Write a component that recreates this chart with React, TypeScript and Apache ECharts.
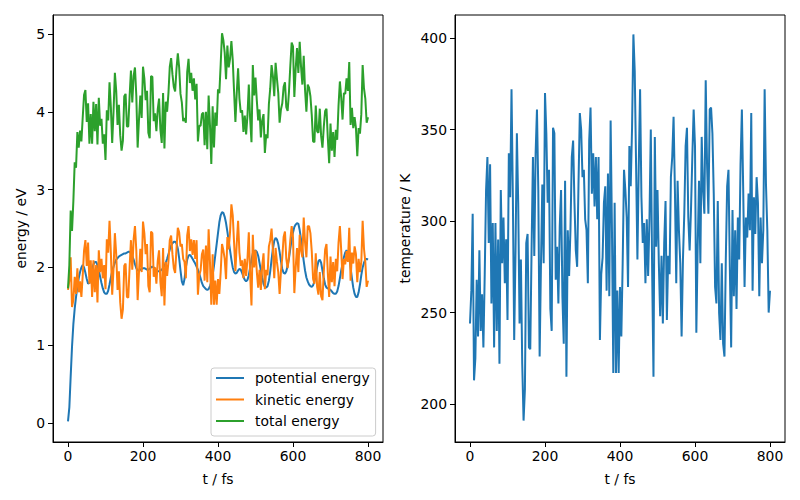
import React, { useEffect, useRef } from "react";
import * as echarts from "echarts";

const T_END = 800;
const N_STEPS = 224;

const temperature = [
  244, 262, 304, 213, 225, 268, 237, 284, 240, 260,
  231, 271, 317, 335, 288, 331, 255, 299, 231, 299,
  240, 290, 222, 317, 277, 302, 266, 290, 246, 337,
  313, 372, 313, 235, 284, 348, 310, 244, 279, 222,
  191, 208, 288, 293, 231, 230, 286, 335, 281, 337,
  361, 317, 226, 277, 320, 277, 370, 348, 310, 328,
  252, 240, 351, 348, 268, 286, 255, 297, 317, 259,
  233, 322, 215, 295, 270, 295, 335, 344, 310, 284,
  275, 320, 359, 350, 324, 328, 301, 295, 266, 344,
  362, 315, 337, 308, 335, 301, 335, 235, 271, 280,
  310, 319, 262, 326, 259, 355, 295, 217, 310, 217,
  262, 217, 264, 237, 277, 328, 317, 302, 264, 341,
  319, 351, 402, 382, 331, 279, 330, 372, 313, 288,
  299, 266, 301, 270, 301, 350, 273, 215, 346, 286,
  317, 277, 248, 281, 244, 288, 311, 246, 281, 271,
  324, 335, 357, 317, 266, 322, 295, 277, 237, 279,
  304, 341, 351, 302, 284, 306, 335, 361, 341, 239,
  286, 322, 277, 346, 317, 304, 377, 331, 304, 361,
  362, 348, 315, 264, 255, 311, 250, 235, 277, 233,
  226, 279, 319, 328, 275, 231, 306, 259, 295, 252,
  302, 279, 331, 361, 317, 264, 302, 291, 315, 295,
  359, 262, 313, 293, 324, 310, 259, 302, 277, 295,
  372, 320, 295, 250, 262,
];

const kinetic = [
  1.71, 1.83, 2.13, 1.49, 1.58, 1.88, 1.66, 1.99, 1.68, 1.82,
  1.62, 1.9, 2.22, 2.35, 2.02, 2.32, 1.79, 2.09, 1.62, 2.09,
  1.68, 2.03, 1.55, 2.22, 1.94, 2.11, 1.86, 2.03, 1.72, 2.36,
  2.19, 2.6, 2.19, 1.65, 1.99, 2.44, 2.17, 1.71, 1.95, 1.55,
  1.34, 1.46, 2.02, 2.05, 1.62, 1.61, 2.0, 2.35, 1.97, 2.36,
  2.53, 2.22, 1.58, 1.94, 2.24, 1.94, 2.59, 2.44, 2.17, 2.3,
  1.76, 1.68, 2.46, 2.44, 1.88, 2.0, 1.79, 2.08, 2.22, 1.81,
  1.63, 2.25, 1.51, 2.07, 1.89, 2.07, 2.35, 2.41, 2.17, 1.99,
  1.93, 2.24, 2.51, 2.45, 2.27, 2.3, 2.11, 2.07, 1.86, 2.41,
  2.53, 2.21, 2.36, 2.16, 2.35, 2.11, 2.35, 1.65, 1.9, 1.96,
  2.17, 2.23, 1.83, 2.28, 1.81, 2.49, 2.07, 1.52, 2.17, 1.52,
  1.83, 1.52, 1.85, 1.66, 1.94, 2.3, 2.22, 2.11, 1.85, 2.39,
  2.23, 2.46, 2.81, 2.67, 2.32, 1.95, 2.31, 2.6, 2.19, 2.02,
  2.09, 1.86, 2.11, 1.89, 2.11, 2.45, 1.91, 1.51, 2.42, 2.0,
  2.22, 1.94, 1.74, 1.97, 1.71, 2.02, 2.18, 1.72, 1.97, 1.9,
  2.27, 2.35, 2.5, 2.22, 1.86, 2.25, 2.07, 1.94, 1.66, 1.95,
  2.13, 2.39, 2.46, 2.11, 1.99, 2.14, 2.35, 2.53, 2.39, 1.67,
  2.0, 2.25, 1.94, 2.42, 2.22, 2.13, 2.64, 2.32, 2.13, 2.53,
  2.53, 2.44, 2.21, 1.85, 1.79, 2.18, 1.75, 1.65, 1.94, 1.63,
  1.58, 1.95, 2.23, 2.3, 1.93, 1.62, 2.14, 1.81, 2.07, 1.76,
  2.11, 1.95, 2.32, 2.53, 2.22, 1.85, 2.11, 2.04, 2.21, 2.07,
  2.51, 1.83, 2.19, 2.05, 2.27, 2.17, 1.81, 2.11, 1.94, 2.07,
  2.6, 2.24, 2.07, 1.75, 1.83,
];

const potential = [
  0.02, 0.2, 0.6, 0.98, 1.27, 1.47, 1.62, 1.75, 1.86, 1.94,
  2.0, 2.03, 2.0, 1.93, 1.85, 1.79, 1.8, 1.88, 1.97, 2.04,
  2.07, 2.07, 2.03, 1.96, 1.88, 1.8, 1.73, 1.68, 1.66, 1.66,
  1.7, 1.78, 1.87, 1.95, 2.01, 2.06, 2.1, 2.12, 2.14, 2.15,
  2.16, 2.17, 2.18, 2.18, 2.19, 2.2, 2.2, 2.18, 2.15, 2.1,
  2.04, 1.99, 1.96, 1.96, 1.97, 1.98, 1.99, 1.99, 1.98, 1.97,
  1.97, 1.98, 2.0, 2.01, 2.0, 1.98, 1.96, 1.95, 1.95, 1.96,
  1.97, 1.99, 2.02, 2.06, 2.11, 2.17, 2.23, 2.28, 2.31, 2.33,
  2.33, 2.31, 2.24, 2.12, 1.96, 1.82, 1.77, 1.85, 2.0, 2.1,
  2.15, 2.16, 2.14, 2.11, 2.08, 2.05, 2.01, 1.97, 1.92, 1.86,
  1.8, 1.76, 1.74, 1.72, 1.71, 1.72, 1.76, 1.81, 1.9, 2.02,
  2.16, 2.3, 2.44, 2.58, 2.67, 2.71, 2.7, 2.65, 2.57, 2.46,
  2.34, 2.22, 2.1, 2.0, 1.94, 1.92, 1.93, 1.96, 1.98, 1.97,
  1.93, 1.88, 1.84, 1.82, 1.84, 1.9, 2.0, 2.1, 2.18, 2.21,
  2.22, 2.2, 2.15, 2.06, 1.96, 1.87, 1.79, 1.75, 1.74, 1.76,
  1.83, 1.95, 2.1, 2.24, 2.34, 2.38, 2.36, 2.3, 2.2, 2.08,
  1.98, 1.93, 1.92, 1.95, 2.02, 2.12, 2.24, 2.36, 2.45, 2.52,
  2.55, 2.57, 2.56, 2.48, 2.36, 2.22, 2.08, 1.96, 1.87, 1.82,
  1.78, 1.76, 1.75, 1.77, 1.82, 1.9, 2.0, 2.08, 2.1, 2.06,
  1.96, 1.86, 1.78, 1.74, 1.73, 1.72, 1.71, 1.69, 1.67, 1.66,
  1.66, 1.69, 1.76, 1.86, 1.96, 2.05, 2.13, 2.19, 2.22, 2.2,
  2.13, 2.0, 1.86, 1.74, 1.66, 1.62, 1.62, 1.68, 1.78, 1.9,
  2.0, 2.06, 2.1, 2.11, 2.1,
];

const total = [
  1.73, 2.03, 2.73, 2.47, 2.85, 3.35, 3.28, 3.74, 3.54, 3.76,
  3.62, 3.93, 4.22, 4.28, 3.87, 4.11, 3.59, 3.97, 3.59, 4.13,
  3.75, 4.1, 3.58, 4.18, 3.82, 3.91, 3.59, 3.71, 3.38, 4.02,
  3.89, 4.38, 4.06, 3.6, 4.0, 4.5, 4.27, 3.83, 4.09, 3.7,
  3.5, 3.63, 4.2, 4.23, 3.81, 3.81, 4.2, 4.53, 4.12, 4.46,
  4.57, 4.21, 3.54, 3.9, 4.21, 3.92, 4.58, 4.43, 4.15, 4.27,
  3.73, 3.66, 4.46, 4.45, 3.88, 3.98, 3.75, 4.03, 4.17, 3.77,
  3.6, 4.24, 3.53, 4.13, 4.0, 4.24, 4.58, 4.69, 4.48, 4.32,
  4.26, 4.55, 4.75, 4.57, 4.23, 4.12, 3.88, 3.92, 3.86, 4.51,
  4.68, 4.37, 4.5, 4.27, 4.43, 4.16, 4.36, 3.62, 3.82, 3.82,
  3.97, 3.99, 3.57, 4.0, 3.52, 4.21, 3.83, 3.33, 4.07, 3.54,
  3.99, 3.82, 4.29, 4.24, 4.61, 5.01, 4.92, 4.76, 4.42, 4.85,
  4.57, 4.68, 4.91, 4.67, 4.26, 3.87, 4.24, 4.56, 4.17, 3.99,
  4.02, 3.74, 3.95, 3.71, 3.95, 4.35, 3.91, 3.61, 4.6, 4.21,
  4.44, 4.14, 3.89, 4.03, 3.67, 3.89, 3.97, 3.47, 3.71, 3.66,
  4.1, 4.3, 4.6, 4.46, 4.2, 4.63, 4.43, 4.24, 3.86, 4.03,
  4.11, 4.32, 4.38, 4.06, 4.01, 4.26, 4.59, 4.89, 4.84, 4.19,
  4.55, 4.82, 4.5, 4.9, 4.58, 4.35, 4.72, 4.28, 4.0, 4.35,
  4.31, 4.2, 3.96, 3.62, 3.61, 4.08, 3.75, 3.73, 4.04, 3.69,
  3.54, 3.81, 4.01, 4.04, 3.66, 3.34, 3.85, 3.5, 3.74, 3.42,
  3.77, 3.64, 4.08, 4.39, 4.18, 3.9, 4.24, 4.23, 4.43, 4.27,
  4.64, 3.83, 4.05, 3.79, 3.93, 3.79, 3.43, 3.79, 3.72, 3.97,
  4.6, 4.3, 4.17, 3.86, 3.93,
];

const seriesNames = ["potential energy", "kinetic energy", "total energy"];
const timeTicks = [0, 200, 400, 600, 800];
const energyTicks = [0, 1, 2, 3, 4, 5];
const temperatureTicks = [200, 250, 300, 350, 400];

const BLUE = "#1f77b4";
const ORANGE = "#ff7f0e";
const GREEN = "#2ca02c";
const FONT = "DejaVu Sans";
const FS = 13.9;

export default function App() {
  const ref = useRef<HTMLDivElement>(null);

  useEffect(() => {
    if (!ref.current) return;
    const chart = echarts.init(ref.current, null, { renderer: "svg" });
    const times = potential.map((_, i) => (i * T_END) / N_STEPS);
    const pairs = (arr: number[]) => arr.map((v, i) => [times[i], v]);

    const textStyle = { fontFamily: FONT, fontSize: FS, color: "#000" };

    const xAxisBase = (gridIndex: number) => ({
      type: "value",
      gridIndex,
      min: -40,
      max: 840,
      name: "t / fs",
      nameLocation: "middle",
      nameGap: 30,
      nameTextStyle: textStyle,
      axisLine: { show: true, onZero: false, lineStyle: { color: "#000", width: 1 } },
      axisTick: { show: true, inside: false, length: 5, customValues: timeTicks, lineStyle: { color: "#000", width: 1 } },
      axisLabel: { customValues: timeTicks, margin: 7, ...textStyle },
      splitLine: { show: false },
    });

    chart.setOption({
      animation: false,
      backgroundColor: "#fff",
      grid: [
        { left: 53, top: 15, width: 330, height: 427, show: true, borderColor: "#000", borderWidth: 1, backgroundColor: "transparent" },
        { left: 455, top: 15, width: 330, height: 427, show: true, borderColor: "#000", borderWidth: 1, backgroundColor: "transparent" },
      ],
      xAxis: [xAxisBase(0), xAxisBase(1)],
      yAxis: [
        {
          type: "value",
          gridIndex: 0,
          min: -0.244,
          max: 5.244,
          name: "energy / eV",
          nameLocation: "middle",
          nameGap: 25,
          nameTextStyle: textStyle,
          axisLine: { show: true, onZero: false, lineStyle: { color: "#000", width: 1 } },
          axisTick: { show: true, inside: false, length: 5, customValues: energyTicks, lineStyle: { color: "#000", width: 1 } },
          axisLabel: { customValues: energyTicks, margin: 8, ...textStyle },
          splitLine: { show: false },
        },
        {
          type: "value",
          gridIndex: 1,
          min: 179.3,
          max: 412.6,
          name: "temperature / K",
          nameLocation: "middle",
          nameGap: 43,
          nameTextStyle: textStyle,
          axisLine: { show: true, onZero: false, lineStyle: { color: "#000", width: 1 } },
          axisTick: { show: true, inside: false, length: 5, customValues: temperatureTicks, lineStyle: { color: "#000", width: 1 } },
          axisLabel: { customValues: temperatureTicks, margin: 8, ...textStyle },
          splitLine: { show: false },
        },
      ],
      legend: {
        data: seriesNames.map((name) => ({ name, icon: "rect" })),
        orient: "vertical",
        left: 211,
        top: 368,
        itemWidth: 28,
        itemHeight: 2,
        itemGap: 7.5,
        padding: [3, 6, 8, 5],
        backgroundColor: "rgba(255,255,255,0.8)",
        borderColor: "#cccccc",
        borderWidth: 1,
        borderRadius: 3,
        textStyle: { ...textStyle, padding: [0, 0, 0, 6] },
      },
      series: [
        { name: seriesNames[0], type: "line", xAxisIndex: 0, yAxisIndex: 0, symbol: "none", data: pairs(potential), lineStyle: { color: BLUE, width: 2 }, itemStyle: { color: BLUE } },
        { name: seriesNames[1], type: "line", xAxisIndex: 0, yAxisIndex: 0, symbol: "none", data: pairs(kinetic), lineStyle: { color: ORANGE, width: 2 }, itemStyle: { color: ORANGE } },
        { name: seriesNames[2], type: "line", xAxisIndex: 0, yAxisIndex: 0, symbol: "none", data: pairs(total), lineStyle: { color: GREEN, width: 2 }, itemStyle: { color: GREEN } },
        { name: "temperature", type: "line", xAxisIndex: 1, yAxisIndex: 1, symbol: "none", data: pairs(temperature), lineStyle: { color: BLUE, width: 2 }, itemStyle: { color: BLUE } },
      ],
    });

    return () => chart.dispose();
  }, []);

  return <div ref={ref} style={{ position: "fixed", left: 0, top: 0, width: 800, height: 500 }} />;
}
